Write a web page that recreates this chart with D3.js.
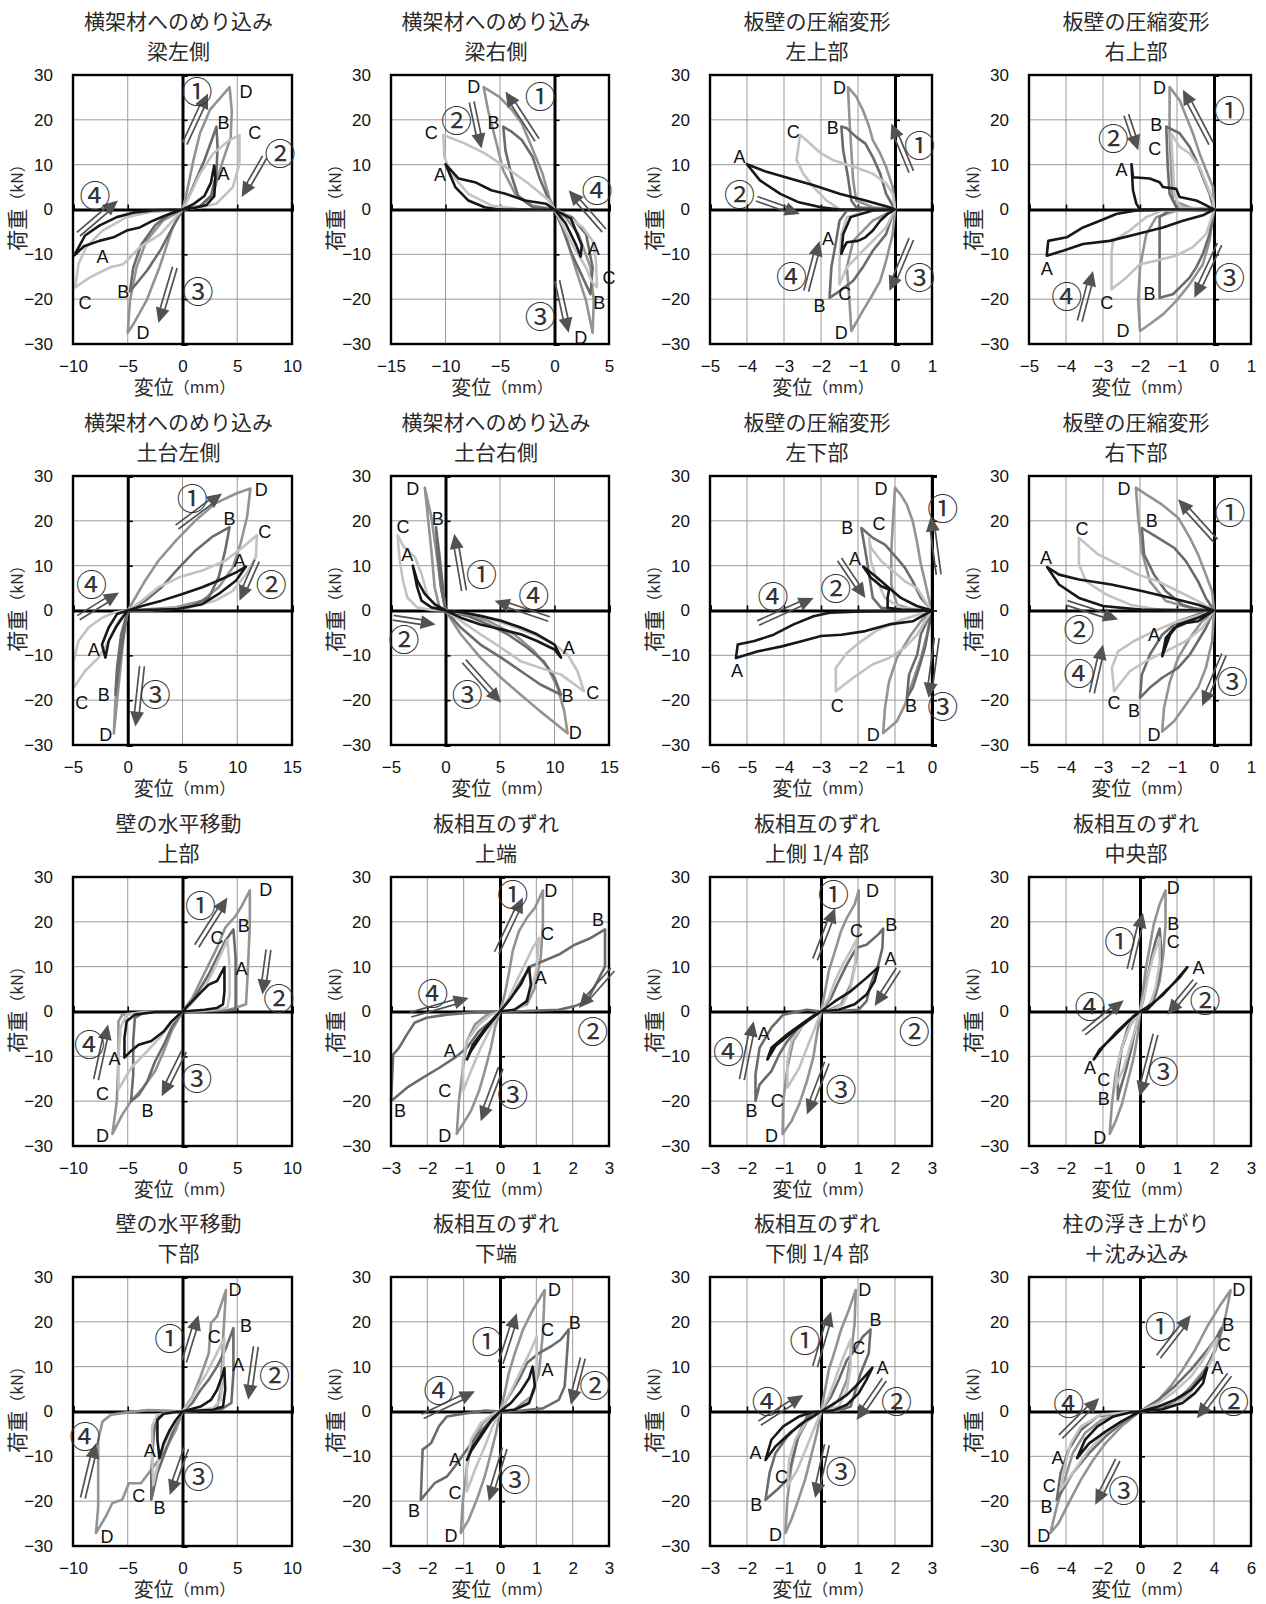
<!DOCTYPE html>
<html>
<head>
<meta charset="utf-8">
<script src="https://cdn.jsdelivr.net/npm/d3@7"></script>
<style>
body { margin: 0; background: #fff; }
svg { display: block; }
</style>
</head>
<body>
<svg id="chart" width="1266" height="1604"></svg>
<script>
// titles, axes
var titles = [
  ["横架材へのめり込み", "梁左側"], ["横架材へのめり込み", "梁右側"], ["板壁の圧縮変形", "左上部"], ["板壁の圧縮変形", "右上部"],
  ["横架材へのめり込み", "土台左側"], ["横架材へのめり込み", "土台右側"], ["板壁の圧縮変形", "左下部"], ["板壁の圧縮変形", "右下部"],
  ["壁の水平移動", "上部"], ["板相互のずれ", "上端"], ["板相互のずれ", "上側 1/4 部"], ["板相互のずれ", "中央部"],
  ["壁の水平移動", "下部"], ["板相互のずれ", "下端"], ["板相互のずれ", "下側 1/4 部"], ["柱の浮き上がり", "＋沈み込み"]
]
var xDomains = [[-10,10],[-15,5],[-5,1],[-5,1],[-5,15],[-5,15],[-6,0],[-5,1],[-10,10],[-3,3],[-3,3],[-3,3],[-10,10],[-3,3],[-3,3],[-6,6]]
var ticks10 = [-10,-5,0,5,10], ticks3 = [-3,-2,-1,0,1,2,3], ticks5 = [-5,-4,-3,-2,-1,0,1]
var xTicks = [ticks10, [-15,-10,-5,0,5], ticks5, ticks5, [-5,0,5,10,15], [-5,0,5,10,15], [-6,-5,-4,-3,-2,-1,0], ticks5,
  ticks10, ticks3, ticks3, ticks3, ticks10, ticks3, ticks3, [-6,-4,-2,0,2,4,6]]
var yTicks = [-30,-20,-10,0,10,20,30]

// loops: displacement (mm), load (kN)
var p1A = [[0,0],[1,1.2],[2,3],[2.6,6],[2.9,9.8],[3,7],[2.9,3],[2.2,1],[1,0.3],[0,0],[-1.5,-1.3],[-2.7,-2.5],[-3.9,-4],[-5.1,-4.7],[-6.3,-6.2],[-7.6,-7],[-9,-8.2],[-9.9,-10.3],[-8.9,-5.8],[-7.6,-3.6],[-6,-1.7],[-4.5,-0.7],[-2.7,-0.2],[0,0]]
var p1B = [[0,0],[0.6,3],[1.3,7],[2,11],[2.6,15],[3.1,18.5],[3.2,14],[3.1,8],[2.6,3],[1.6,0.8],[0,0],[-0.9,-4],[-2,-9],[-3.2,-13.5],[-4.2,-16.5],[-4.8,-18.3],[-4.5,-13],[-3.8,-8],[-2.5,-3.5],[-1.2,-1],[0,0]]
var p1C = [[0,0],[0.6,2.8],[1.6,8],[2.8,12.5],[4.3,15.5],[5.2,16.6],[5.2,10.2],[4.6,5],[3.1,1.3],[1.6,0.5],[0,0],[-2,-5.5],[-3.9,-8.4],[-5.4,-12.2],[-6.6,-12.9],[-8.5,-15.2],[-9.8,-17.4],[-9.5,-12.2],[-8.8,-8.4],[-7.3,-4.7],[-5.1,-1.7],[-3,-0.6],[0,0]]
var p1D = [[0,0],[0.3,2.8],[1,11],[1.6,17],[2.5,22.2],[4.3,27.3],[4.5,22],[4.4,16],[3.7,11],[2.8,3.5],[1.6,0.5],[0,0],[-0.9,-4],[-2.1,-12.9],[-3.3,-20.4],[-4.5,-25.6],[-5,-27.5],[-4.8,-20.4],[-4.2,-12.9],[-3.3,-7],[-1.8,-2.5],[0,0]]

var p2A = [[0,0],[-0.8,1.3],[-2.7,2],[-4.5,3.5],[-5.8,4.3],[-7.3,6.1],[-8.8,6.9],[-10,10.1],[-9.1,5],[-7.9,2],[-6.4,0.5],[-5.1,0],[0,0],[1,-3],[2,-8],[2.4,-10.5],[2.5,-8],[1.5,-2],[0,0]]
var p2B = [[0,0],[-0.5,2],[-1.4,7.2],[-2,11.7],[-3,15.5],[-3.9,17.3],[-4.7,18.5],[-4.5,13.2],[-3.9,7.2],[-3.3,2.8],[-2,0.5],[0,0],[0.7,-4],[1.6,-10],[2.6,-15.2],[3.3,-18.9],[3.5,-13],[2.9,-5.5],[1.6,-1.7],[0,0]]
var p2C = [[0,0],[-0.5,2],[-2.4,5.8],[-4.5,9.5],[-6.4,12.5],[-8.2,14.7],[-10.2,16.6],[-10.1,11.7],[-9.5,8],[-7.9,3.5],[-5.8,0.9],[-3.3,0.1],[0,0],[1,-1],[2.6,-4],[3.5,-7],[3.8,-11.4],[3.9,-17.4],[3.4,-16],[2.9,-13],[1.6,-7.7],[0.7,-3.2],[0,0]]
var p2D = [[0,0],[-0.5,2.8],[-1.1,8],[-2.1,14],[-3,19.2],[-3.9,22.2],[-5.1,25.2],[-6.5,27.3],[-6.1,22.2],[-5.4,15.5],[-4.7,8.7],[-3.6,3.5],[-2,0.9],[0,0],[1,-5.5],[1.9,-12.9],[2.9,-20.4],[3.5,-27.5],[3.6,-20.4],[3.3,-12.9],[2.2,-5.5],[1,-1.7],[0,0]]

var p3A = [[0,0],[-0.15,0.5],[-0.8,2],[-1.5,3.5],[-2.2,5.4],[-2.84,6.9],[-3.47,8.4],[-4,10.1],[-3.65,6.5],[-3.1,3.5],[-2.6,1.6],[-2,0.5],[-1.5,0],[0,0],[-0.2,-1],[-0.4,-2.5],[-0.6,-4.7],[-0.8,-6.2],[-1,-7],[-1.3,-7.3],[-1.4,-8.8],[-1.45,-9.9],[-1.4,-5.5],[-1.2,-1.7],[-0.6,-0.2],[0,0]]
var p3B = [[0,0],[-0.24,3.5],[-0.4,8],[-0.6,11.7],[-0.8,14.7],[-1.05,16.2],[-1.3,18.1],[-1.45,18.5],[-1.4,13.2],[-1.27,7.2],[-1.18,2],[-1.05,0.5],[-0.6,0.2],[0,0],[-0.06,-1],[-0.24,-5.5],[-0.6,-9.2],[-0.87,-12.9],[-1.13,-15.9],[-1.5,-18.2],[-1.77,-19.7],[-1.72,-12.9],[-1.59,-7],[-1.5,-2.5],[-1.3,-0.2],[0,0]]
var p3C = [[0,0],[-0.06,3.5],[-0.24,5.8],[-0.6,8],[-1.1,9.5],[-1.67,11],[-2,12.5],[-2.4,15.5],[-2.57,16.6],[-2.66,11],[-2.48,8],[-2.2,5],[-1.85,2],[-1.5,0.1],[-0.6,0],[0,0],[-0.24,-4],[-0.6,-7],[-0.95,-9.9],[-1.3,-12.9],[-1.5,-16.7],[-1.5,-11.4],[-1.45,-5.5],[-1.3,-1.7],[-0.7,-0.2],[0,0]]
var p3D = [[0,0],[-0.06,5],[-0.24,9.5],[-0.4,12.5],[-0.6,15.5],[-0.7,18.5],[-0.87,22.2],[-1.05,25.2],[-1.27,27.3],[-1.23,20],[-1.18,13.2],[-1.13,6.5],[-1.05,2],[-0.6,0.5],[0,0],[-0.06,-5.5],[-0.24,-11.4],[-0.4,-15.9],[-0.6,-18.9],[-0.87,-22.6],[-1.18,-27.1],[-1.23,-20.4],[-1.3,-12.9],[-1.13,-7],[-0.6,-2.5],[0,0]]

var p4A = [[0,0],[-0.3,1.3],[-0.48,2],[-0.93,2.8],[-1.02,4.6],[-1.38,5],[-1.47,6.1],[-1.74,6.9],[-2.19,7.2],[-2.23,10.1],[-2.19,4.3],[-2.1,1.3],[-2,0],[0,0],[-0.3,-1.3],[-0.84,-2.5],[-1.38,-4],[-2.1,-5.5],[-2.82,-7],[-3.54,-7.7],[-4.08,-9.2],[-4.52,-10.3],[-4.48,-7],[-3.98,-6.2],[-3.54,-4],[-3.08,-2.5],[-2.64,-1],[-2.1,-0.2],[-1.4,0],[0,0]]
var p4B = [[0,0],[-0.12,3.5],[-0.3,7.2],[-0.48,11],[-0.66,14],[-0.93,17],[-1.29,18.5],[-1.25,9.5],[-1.2,3.5],[-1.02,0.5],[0,0],[-0.12,-5.5],[-0.3,-9.9],[-0.48,-12.9],[-0.66,-15.2],[-0.84,-16.7],[-1.11,-18.9],[-1.47,-19.7],[-1.47,-12.9],[-1.47,-5.5],[-1.47,-1.7],[-1.2,-0.2],[0,0]]
var p4C = [[0,0],[-0.03,2],[-0.21,5.8],[-0.39,9.5],[-0.66,12.5],[-0.93,14],[-1.16,17],[-1.11,9.5],[-1.07,3.5],[-0.93,0.5],[0,0],[-0.21,-5.5],[-0.57,-8.4],[-1.02,-10.3],[-1.56,-11.4],[-2,-12.2],[-2.37,-15.2],[-2.77,-17.8],[-2.77,-9.9],[-2.73,-7],[-2.28,-4.7],[-1.83,-1.7],[-1.38,-0.2],[0,0]]
var p4D = [[0,0],[-0.03,5],[-0.21,8.7],[-0.39,12.5],[-0.57,17],[-0.75,20.7],[-0.93,24.4],[-1.2,27.3],[-1.2,17],[-1.16,9.5],[-1.11,2],[-0.6,0.3],[0,0],[-0.12,-7],[-0.3,-12.2],[-0.66,-16.7],[-1.02,-20.4],[-1.38,-23.4],[-1.74,-25.6],[-2,-27.1],[-2.05,-20.4],[-2,-12.9],[-1.83,-5.5],[-1.56,-1.7],[-1,-0.2],[0,0]]

var p5A = [[0,0],[1.3,1],[3.1,2.2],[5,3.7],[6.8,5.2],[8.3,6.7],[9.9,8.5],[10.8,9.8],[9.9,6.7],[8.3,3.7],[6.8,1.4],[4.4,0.3],[0,0],[-0.5,-1.6],[-1.1,-3.8],[-1.74,-6.8],[-2.04,-10.5],[-2.35,-7.6],[-1.74,-3.8],[-0.98,-0.8],[0,0]]
var p5B = [[0,0],[1.6,2.2],[3.1,5.2],[4.7,9.6],[6.2,13.4],[7.7,16.4],[9.3,18.6],[8.9,13.4],[8.3,7.4],[7.4,2.9],[5.6,0.7],[3.1,0.1],[0,0],[-0.36,-5.3],[-0.82,-12.8],[-1.13,-18.8],[-0.98,-12.8],[-0.6,-5.3],[0,0]]
var p5C = [[0,0],[1.3,2.2],[2.8,5.2],[4.7,7.4],[6.8,8.9],[8.9,11.1],[10.5,14.1],[11.8,16.8],[11.7,11.9],[10.8,8.1],[9.6,4.4],[8,2.2],[5.6,0.7],[2.2,0.1],[0,0],[-0.82,-2.3],[-1.74,-6.8],[-2.66,-10.5],[-3.9,-13.5],[-4.95,-17.3],[-4.95,-11.3],[-4.5,-6.8],[-3.57,-3.8],[-2.35,-1.6],[-1.13,-0.4],[0,0]]
var p5D = [[0,0],[0.7,2.9],[1.6,6.7],[2.8,11.1],[4.4,15.6],[6.2,20.1],[8,23.9],[9.9,26.1],[11.2,27.2],[10.9,20.9],[10.3,14.9],[9.6,9.6],[8.3,5.2],[6.8,2.2],[4.4,0.7],[0,0],[-0.36,-5.3],[-0.67,-12.8],[-0.98,-20.3],[-1.27,-27.4],[-1.13,-20.3],[-0.82,-12.8],[-0.5,-5.3],[0,0]]

var p6A = [[0,0],[-1,1.4],[-1.9,3.7],[-2.6,6.7],[-3,10],[-2.6,5.2],[-2.2,2.2],[-1.3,0.7],[0,0],[1.4,-1.6],[3.2,-3.1],[5.1,-4.2],[6.9,-5.3],[8.4,-6.8],[10,-8.7],[10.6,-10.5],[10,-7.6],[8.4,-5.3],[6.9,-3.8],[5.1,-2.3],[3.2,-1.2],[1.4,-0.4],[0,0]]
var p6B = [[0,0],[-0.27,5.9],[-0.57,12.6],[-0.87,18.6],[-0.72,12.6],[-0.42,5.2],[0,0],[1.4,-3.8],[3.2,-7.6],[5.1,-10.5],[6.9,-13.5],[8.7,-16.5],[10.6,-18.8],[10,-15],[9,-11.3],[7.5,-8.3],[5.7,-5.3],[3.9,-3.1],[2,-1.2],[0,0]]
var p6C = [[0,0],[-0.7,0.7],[-1.6,2.9],[-2.2,8.2],[-2.8,11.9],[-3.8,14.1],[-4.4,16.8],[-4.2,11.1],[-3.9,6.7],[-3.5,2.9],[-2.6,0.7],[-1.3,0.1],[0,0],[1.4,-2.3],[3.2,-5.3],[5.1,-8.3],[6.9,-11.3],[8.7,-12.8],[10.6,-14.3],[12.7,-18],[12.1,-13.5],[11.2,-9.8],[10,-7.6],[8.1,-5.3],[5.7,-3.1],[3.2,-1.2],[0,0]]
var p6D = [[0,0],[-0.4,5.2],[-0.87,13.4],[-1.3,20.9],[-1.9,27.4],[-1.65,21.6],[-1.3,13.4],[-1,5.2],[-0.55,0.7],[0,0],[1.4,-5.3],[3.2,-10.5],[5.1,-15],[6.9,-18.8],[8.7,-22.5],[11.2,-27.4],[10.9,-22.5],[10.3,-17.3],[9.4,-12.8],[8.1,-9],[6.3,-5.3],[3.9,-2.3],[1.7,-0.8],[0,0]]

var p7A = [[0,0],[-0.41,1],[-0.84,2.8],[-1.16,5],[-1.48,7.3],[-1.86,9.8],[-1.65,7.3],[-1.37,5.4],[-1.16,4.7],[-1.2,2.8],[-1.2,0.6],[-0.84,0.2],[0,0],[-0.52,-2.4],[-1.16,-3.1],[-1.8,-4.6],[-2.45,-5.4],[-3,-5.7],[-3.5,-6.8],[-4.06,-8],[-4.7,-9.1],[-5.3,-10.6],[-5.25,-7.6],[-4.8,-6.8],[-4.28,-5.4],[-3.74,-3.1],[-3.2,-1.3],[-2.77,-0.5],[-1.9,-0.2],[0,0]]
var p7B = [[0,0],[-0.3,2.8],[-0.52,6.5],[-0.73,9.5],[-0.95,11.7],[-1.27,14.7],[-1.6,16.2],[-1.91,18.4],[-1.8,13.2],[-1.7,8],[-1.6,2.8],[-1.37,0.6],[-0.84,0.2],[0,0],[-0.09,-3.9],[-0.19,-8.3],[-0.35,-12.8],[-0.52,-17.2],[-0.68,-19.5],[-0.62,-14.3],[-0.4,-9.8],[-0.3,-5.3],[0,0]]
var p7C = [[0,0],[-0.19,2.1],[-0.4,5],[-0.73,6.5],[-1.05,8.8],[-1.37,11],[-1.65,14],[-1.7,16.2],[-1.65,11],[-1.48,6.5],[-1.27,2.8],[-0.84,0.6],[0,0],[-0.19,-2.4],[-0.4,-5.4],[-0.73,-8.3],[-1.16,-10.6],[-1.6,-12],[-2.13,-15],[-2.6,-18],[-2.6,-12.8],[-2.3,-9.5],[-2,-7.4],[-1.5,-4.5],[-0.8,-2],[0,0]]
var p7D = [[0,0],[-0.09,2.8],[-0.19,6.5],[-0.3,10.3],[-0.41,15.5],[-0.52,19.9],[-0.68,23.6],[-0.84,25.8],[-1,27.4],[-1.05,20.7],[-1.1,13.2],[-1.1,5.8],[-0.95,1.3],[-0.52,0.2],[0,0],[-0.14,-5.4],[-0.3,-10.6],[-0.52,-15.8],[-0.73,-21],[-0.95,-24.7],[-1.32,-27.3],[-1.27,-21.7],[-1.16,-15.8],[-0.95,-10.6],[-0.62,-6.1],[-0.3,-2.4],[0,0]]

var p8A = [[0,0],[-0.43,1.3],[-1.16,2.8],[-1.92,4.3],[-2.78,5.8],[-3.65,6.9],[-4.19,8],[-4.51,9.7],[-4.19,5.8],[-3.65,2.8],[-3,1],[-2,0.2],[-1,0.1],[0,0],[-0.43,-2.4],[-0.76,-2.8],[-1.08,-3.9],[-1.3,-6.1],[-1.4,-10.2],[-1.19,-5.4],[-0.97,-3.1],[-0.43,-1.6],[0,0]]
var p8B = [[0,0],[-0.22,2.8],[-0.43,6.5],[-0.76,11],[-1.08,14],[-1.51,16.2],[-1.95,18.4],[-1.89,12.5],[-1.62,8],[-1.3,4.3],[-0.86,1.3],[-0.43,0.2],[0,0],[-0.22,-3.9],[-0.43,-6.8],[-0.65,-9.8],[-0.97,-12.8],[-1.4,-15],[-1.73,-17.2],[-2,-19.5],[-1.95,-14.3],[-1.73,-9.8],[-1.4,-5.4],[-0.97,-2.4],[-0.43,-0.9],[0,0]]
var p8C = [[0,0],[-0.43,2.1],[-0.97,4.3],[-1.51,6.5],[-2.05,8],[-2.59,10.3],[-3.13,12.5],[-3.65,16.2],[-3.65,10.3],[-3.46,6.5],[-2.92,3.6],[-2.27,1.3],[-1.51,0.2],[0,0],[-0.32,-3.9],[-0.76,-6.8],[-1.3,-9.1],[-1.84,-11.3],[-2.27,-13.5],[-2.7,-18],[-2.76,-12.8],[-2.59,-9.1],[-2.16,-6.8],[-1.62,-4.6],[-0.97,-2.4],[-0.32,-0.9],[0,0]]
var p8D = [[0,0],[-0.05,4.3],[-0.22,8],[-0.43,12.5],[-0.65,16.2],[-0.97,20.7],[-1.4,23.6],[-1.84,25.9],[-2.11,27.4],[-2.05,20.7],[-1.95,13.2],[-1.73,6.5],[-1.3,2.1],[-0.65,0.6],[0,0],[-0.05,-6.8],[-0.22,-12.8],[-0.43,-17.2],[-0.76,-21],[-1.08,-24.7],[-1.4,-27],[-1.35,-21.7],[-1.19,-15.8],[-0.97,-10.6],[-0.65,-6.1],[-0.32,-2.4],[0,0]]

var p9A = [[0,0],[0.9,2.3],[1.65,4.2],[2.4,6],[3.15,6.8],[3.83,9.9],[3.83,4.5],[3.7,1.6],[3.15,0.8],[2,0.4],[0,0],[-1,-2.2],[-1.7,-4.4],[-2.85,-6.6],[-4,-7.4],[-4.7,-8.8],[-5.3,-10.3],[-5.3,-5.9],[-5.1,-2.2],[-4.35,-0.7],[-2.5,-0.1],[0,0]]
var p9B = [[0,0],[0.9,2.3],[1.65,5.3],[2.4,8.3],[3.15,12],[3.9,15.7],[4.65,18.3],[4.85,12],[4.85,4.5],[4.85,0.4],[3.15,0.1],[0,0],[-1,-3.6],[-1.7,-7.4],[-2.5,-11.1],[-3.2,-15.5],[-3.95,-18.5],[-4.7,-20],[-4.5,-14],[-4.5,-6.6],[-4.35,-1.4],[-3.6,-0.3],[0,0]]
var p9C = [[0,0],[0.9,1.9],[2,5.3],[2.8,9],[3.5,12.7],[4.1,16],[4.3,9.7],[4.3,3.8],[4.1,0.8],[2,0.1],[0,0],[-1,-2.5],[-2.1,-5.9],[-3.2,-8.8],[-4.7,-12.6],[-5.85,-17.4],[-5.85,-10.3],[-5.65,-3.6],[-5.1,-0.7],[-3.6,-0.2],[0,0]]
var p9D = [[0,0],[0.9,3],[1.65,6.8],[2.4,10.5],[3.15,14.2],[3.9,18.7],[4.85,21.3],[5.4,23.5],[6.15,27],[6.15,19.4],[5.95,8.3],[5.8,1.6],[4.3,0.4],[1.3,0.1],[0,0],[-1,-4.4],[-1.7,-8.8],[-2.5,-13.3],[-3.6,-17],[-4.7,-20],[-5.5,-23],[-6.4,-27.3],[-6,-20],[-5.85,-10.3],[-5.85,-2.2],[-5.5,-0.7],[-3.6,-0.2],[0,0]]

var p10A = [[0,0],[0.3,3],[0.57,6],[0.8,9.9],[0.85,6],[0.74,2.3],[0.4,0.4],[0,0],[-0.25,-2.5],[-0.53,-5.5],[-0.8,-8.8],[-0.91,-10.7],[-0.75,-7.4],[-0.47,-4.4],[-0.2,-1.8],[0,0]]
var p10B = [[0,0],[0.3,3],[0.63,7.5],[0.85,10.1],[1.18,11.2],[1.62,12.7],[2.06,14.9],[2.5,16.4],[2.89,18.3],[2.89,12],[2.89,10],[2.6,5.5],[2.39,2.3],[2.06,1.2],[1.62,0.4],[0.7,0.1],[0,0],[-0.25,-2.2],[-0.58,-4.4],[-0.91,-8.1],[-1.24,-10.3],[-1.68,-12.6],[-2.13,-14.8],[-2.56,-17],[-3,-20],[-2.94,-9.6],[-2.78,-8.1],[-2.56,-5.1],[-2.35,-2.5],[-2.02,-1.4],[-1.46,-0.7],[-0.91,-0.3],[0,0]]
var p10C = [[0,0],[0.24,3],[0.46,6.8],[0.68,10.5],[0.9,14.2],[1.07,16.4],[1.01,9.7],[0.85,4.5],[0.63,1.2],[0.3,0.2],[0,0],[-0.25,-3.6],[-0.53,-8.1],[-0.8,-13.3],[-1.02,-17.8],[-1.02,-11],[-0.91,-6.6],[-0.58,-2.9],[-0.25,-0.7],[0,0]]
var p10D = [[0,0],[0.13,3.8],[0.24,8.3],[0.35,13.5],[0.52,17.9],[0.74,20.9],[0.96,23.1],[1.18,27],[1.18,19.4],[1.12,12],[0.96,5.3],[0.74,1.6],[0.3,0.2],[0,0],[-0.14,-3.6],[-0.25,-8.1],[-0.42,-13.3],[-0.58,-17.8],[-0.8,-22.2],[-1.19,-27.3],[-1.13,-20],[-1.02,-12.6],[-0.91,-6.6],[-0.69,-2.9],[-0.36,-0.7],[0,0]]

var p11A = [[0,0],[0.38,2.3],[0.8,4.5],[1.23,7.5],[1.55,9.9],[1.45,6.8],[1.23,3.8],[0.91,1.6],[0.48,0.4],[0,0],[-0.38,-2.2],[-0.8,-4.8],[-1.23,-7.7],[-1.45,-10.7],[-1.34,-8.1],[-0.91,-5.1],[-0.48,-2.5],[-0.16,-0.7],[0,0]]
var p11B = [[0,0],[0.27,3],[0.48,6.8],[0.7,10.5],[0.96,14.2],[1.23,14.9],[1.55,17.2],[1.68,18.5],[1.66,14.2],[1.55,10.5],[1.34,6],[1.23,2.3],[1.02,0.4],[0.4,0.1],[0,0],[-0.27,-1.4],[-0.59,-3.6],[-0.91,-6.6],[-1.13,-9.6],[-1.34,-13.3],[-1.66,-16.3],[-1.77,-19.9],[-1.77,-14],[-1.66,-8.1],[-1.34,-3.6],[-1.02,-0.7],[-0.38,0.4],[0,0]]
var p11C = [[0,0],[0.21,3],[0.38,6.8],[0.59,10.5],[0.8,13.5],[0.96,16],[0.91,9.7],[0.8,5.3],[0.59,1.6],[0.27,0.2],[0,0],[-0.16,-3.6],[-0.38,-8.1],[-0.59,-12.6],[-0.91,-17],[-0.91,-11.1],[-0.8,-6.6],[-0.48,-2.9],[-0.16,-0.7],[0,0]]
var p11D = [[0,0],[0.11,4.5],[0.21,9],[0.38,13.5],[0.54,17.9],[0.7,20.9],[0.91,23.9],[1.02,27],[1.02,19.4],[0.96,12],[0.8,6],[0.54,1.6],[0.16,0.2],[0,0],[-0.11,-5.1],[-0.21,-10.3],[-0.38,-15.5],[-0.59,-20.7],[-0.8,-24.5],[-1.04,-27.3],[-1.02,-20],[-0.91,-12.6],[-0.75,-6.6],[-0.48,-2.9],[-0.16,-0.7],[0,0]]

var p12A = [[0,0],[0.31,1.6],[0.63,3.8],[0.96,6.8],[1.28,9.9],[1.06,7.5],[0.74,4.9],[0.42,2.3],[0.2,0.5],[0,0],[-0.33,-2.2],[-0.66,-4.8],[-0.98,-7.7],[-1.25,-10.7],[-1.09,-8.5],[-0.76,-5.9],[-0.44,-3.3],[-0.17,-1],[0,0]]
var p12B = [[0,0],[0.1,3],[0.2,7.5],[0.31,12],[0.42,15.7],[0.53,18.5],[0.58,13.5],[0.53,8.3],[0.42,3.8],[0.2,0.8],[0,0],[-0.12,-3.6],[-0.23,-8.1],[-0.39,-13.3],[-0.55,-17.8],[-0.6,-19.6],[-0.6,-14],[-0.49,-8.1],[-0.33,-3.6],[-0.12,-0.9],[0,0]]
var p12C = [[0,0],[0.12,3.8],[0.23,8.3],[0.37,12.7],[0.53,16.4],[0.53,10.6],[0.42,5.3],[0.26,1.2],[0,0],[-0.12,-3.6],[-0.28,-8.1],[-0.44,-12.6],[-0.66,-16.7],[-0.6,-11.8],[-0.44,-6.6],[-0.23,-2.5],[0,0]]
var p12D = [[0,0],[0.08,4.5],[0.16,9.7],[0.26,14.2],[0.37,19.4],[0.53,23.9],[0.69,27],[0.69,19.4],[0.63,12.7],[0.53,6.8],[0.37,2.3],[0.15,0.4],[0,0],[-0.06,-5.1],[-0.17,-10.3],[-0.33,-15.5],[-0.49,-20.7],[-0.66,-24.5],[-0.82,-27.3],[-0.76,-20.7],[-0.66,-14],[-0.49,-8.1],[-0.28,-3.3],[0,0]]

var p13A = [[0,0],[1.65,1.1],[2.6,2.6],[3.15,4.8],[3.7,8.5],[3.83,9.7],[3.9,4.8],[3.7,1.1],[2.8,0.4],[0,0],[-0.6,-1.9],[-1.16,-4.1],[-1.73,-7.1],[-2.1,-10.4],[-2.29,-6.3],[-2.29,-1.9],[-1.73,-0.5],[-0.6,-0.1],[0,0]]
var p13B = [[0,0],[0.9,1.9],[1.65,4.8],[2.4,7.1],[3.15,10],[3.9,13.7],[4.65,18.6],[4.65,8.5],[4.46,1.9],[3.5,0.4],[0,0],[-0.6,-2.6],[-1.16,-6.3],[-1.73,-10],[-2.29,-13.7],[-2.85,-19.7],[-2.85,-13.7],[-2.66,-6.3],[-2.47,-1.9],[-1.73,-0.4],[0,0]]
var p13C = [[0,0],[0.7,2.2],[1.46,5.6],[2.2,8.5],[2.96,12.2],[3.83,16.3],[3.7,8.5],[3.5,2.6],[2.8,0.7],[0,0],[-0.6,-2.2],[-1.35,-5.6],[-2.1,-10],[-2.66,-16.3],[-2.78,-10],[-2.78,-3.3],[-2.29,-0.7],[0,0]]
var p13D = [[0,0],[0.9,3.3],[1.65,7.8],[2.4,13],[2.6,19.7],[3.15,21.2],[3.98,27.1],[3.7,16],[3.5,4.8],[3.15,0.7],[1.5,0.2],[0,0],[-0.6,-4.1],[-1.73,-9.3],[-2.85,-13],[-3.8,-16],[-4.9,-16],[-5.5,-19.7],[-6.4,-20.4],[-7,-23.4],[-7.9,-27.1],[-7.7,-21.2],[-7.7,-6.3],[-7.3,-2.2],[-6.5,-0.7],[-5,-0.2],[-3.2,0.3],[-1.5,0.2],[0,0]]

var p14A = [[0,0],[0.3,1.9],[0.57,4.5],[0.8,7.4],[0.9,10],[0.96,5.6],[0.8,1.9],[0.4,0.4],[0,0],[-0.25,-2.2],[-0.53,-5.6],[-0.8,-8.9],[-0.91,-10.8],[-0.75,-7.8],[-0.47,-4.5],[-0.2,-1.5],[0,0]]
var p14B = [[0,0],[0.24,3.3],[0.52,7.1],[0.74,10.8],[1.07,13],[1.4,14.5],[1.67,16],[1.89,18.3],[1.84,12.2],[1.78,5.6],[1.62,2.6],[1.18,0.7],[0.5,0.1],[0,0],[-0.25,-1.9],[-0.58,-4.8],[-0.91,-8.5],[-1.24,-12.2],[-1.46,-14.5],[-1.8,-16],[-2.18,-19.7],[-2.13,-8.5],[-1.9,-7.1],[-1.68,-3.3],[-1.46,-1.1],[-0.91,-0.4],[-0.4,0.2],[0,0]]
var p14C = [[0,0],[0.19,2.6],[0.41,6.3],[0.63,10],[0.85,13.7],[1.01,16.7],[1.01,10],[0.96,4.8],[0.74,1.5],[0.3,0.2],[0,0],[-0.2,-3.3],[-0.42,-7.8],[-0.69,-13],[-0.91,-17.8],[-0.91,-11.5],[-0.8,-6.3],[-0.53,-2.6],[-0.2,-0.6],[0,0]]
var p14D = [[0,0],[0.13,4.1],[0.24,8.5],[0.41,13],[0.63,18.2],[0.9,22.6],[1.23,27.1],[1.18,17.4],[1.07,8.5],[0.85,3.3],[0.4,0.5],[0,0],[-0.09,-4.1],[-0.25,-9.3],[-0.42,-14.5],[-0.64,-19.7],[-0.86,-24.1],[-1.08,-27.1],[-1.02,-19.7],[-0.91,-12.2],[-0.75,-6.3],[-0.47,-2.6],[-0.2,-0.7],[0,0]]

var p15A = [[0,0],[0.38,1.9],[0.7,3.7],[1.02,6.3],[1.39,9.8],[1.23,7.1],[1.02,4.1],[0.7,1.5],[0.32,0.2],[0,0],[-0.38,-1.9],[-0.8,-4.5],[-1.23,-7.8],[-1.5,-10.8],[-1.34,-6.3],[-1.02,-3.3],[-0.59,-1.1],[-0.27,-0.2],[0,0]]
var p15B = [[0,0],[0.27,3.3],[0.48,7.1],[0.7,11.5],[0.91,13.7],[1.13,16.7],[1.34,18.3],[1.29,13],[1.07,8.5],[0.91,4.1],[0.8,1.1],[0.48,0.2],[0,0],[-0.27,-1.1],[-0.59,-3],[-0.91,-5.6],[-1.23,-9.3],[-1.39,-13.7],[-1.5,-19.7],[-1.18,-17.4],[-0.91,-15.2],[-0.75,-10],[-0.59,-4.8],[-0.38,-1.1],[0,0]]
var p15C = [[0,0],[0.21,3.3],[0.38,7.1],[0.54,10.8],[0.8,16],[0.8,10],[0.7,4.8],[0.48,1.1],[0,0],[-0.16,-3.3],[-0.38,-7.8],[-0.64,-13],[-0.91,-16.7],[-0.86,-10.8],[-0.7,-6.3],[-0.43,-2.6],[-0.16,-0.6],[0,0]]
var p15D = [[0,0],[0.11,4.8],[0.21,9.3],[0.38,13.7],[0.54,18.2],[0.75,22.6],[0.94,27.1],[0.91,19.7],[0.8,12.2],[0.7,7.1],[0.48,2.6],[0.16,0.3],[0,0],[-0.11,-4.8],[-0.27,-10],[-0.43,-15.2],[-0.64,-20.4],[-0.8,-24.1],[-0.96,-27.1],[-0.91,-19.7],[-0.8,-12.2],[-0.64,-6.3],[-0.38,-2.2],[0,0]]

var p16A = [[0,0],[1,1.1],[1.87,2.6],[2.75,4.8],[3.41,7.8],[3.63,9.8],[3.41,6.3],[2.97,4.1],[2.3,1.9],[1.2,0.5],[0,0],[-1,-2.2],[-1.87,-4.5],[-2.75,-7.1],[-3.4,-10.4],[-2.97,-6.3],[-2.3,-3.3],[-1.43,-1.1],[-0.55,-0.2],[0,0]]
var p16B = [[0,0],[1,2.6],[1.87,5.6],[2.75,9.3],[3.63,13.7],[4.07,16],[4.4,18.6],[4.07,13.7],[3.41,8.5],[2.75,4.8],[1.87,1.9],[1,0.4],[0,0],[-1,-2.6],[-1.87,-5.6],[-2.75,-9.3],[-3.63,-13.7],[-4.07,-16.7],[-4.5,-19.7],[-4.29,-13.7],[-3.85,-8.5],[-3.19,-4.1],[-2.3,-1.1],[-1,-0.3],[0,0]]
var p16C = [[0,0],[1,1.9],[1.87,4.5],[2.75,7.8],[3.41,11.5],[3.85,14.5],[4.18,16.3],[3.96,12.2],[3.41,7.8],[2.53,3.3],[1.43,0.7],[0,0],[-1,-2.2],[-1.87,-4.8],[-2.75,-8.5],[-3.52,-13],[-4.29,-17.4],[-4.07,-12.2],[-3.74,-7.1],[-3.19,-3.3],[-2.09,-0.7],[0,0]]
var p16D = [[0,0],[1,2.6],[1.65,5.6],[2.3,9.3],[2.97,13.7],[3.63,18.9],[4.29,23.4],[4.9,27.1],[4.62,21.2],[4.29,16],[3.63,10],[2.75,5.6],[1.87,1.9],[1,0.4],[0,0],[-1,-3.3],[-1.87,-7.1],[-2.53,-10.8],[-3.19,-15.2],[-3.85,-20.4],[-4.4,-24.9],[-4.84,-27.1],[-4.5,-21.2],[-4.07,-15.2],[-3.63,-9.3],[-2.97,-4.8],[-2.09,-1.9],[-1,-0.5],[0,0]]

// letter labels [letter, x, y]
var labels = [
  [["A",3.75,8],["B",3.75,19.2],["C",6.6,17],["D",5.8,26.3],["A",-7.3,-10.7],["B",-5.4,-18.5],["C",-8.9,-20.8],["D",-3.6,-27.5]],
  [["A",-10.5,7.6],["B",-5.6,19.2],["C",-11.3,17],["D",-7.4,27.4],["A",3.6,-8.8],["B",4.1,-20.8],["C",5,-15.2],["D",2.4,-28.6]],
  [["A",-4.2,11.7],["B",-1.68,18.1],["C",-2.75,17.3],["D",-1.5,27],["A",-1.81,-6.6],["B",-2.04,-21.5],["C",-1.36,-18.9],["D",-1.45,-27.5]],
  [["A",-2.5,8.7],["B",-1.56,18.8],["C",-1.6,13.6],["D",-1.47,27],["A",-4.52,-13.3],["B",-1.74,-18.9],["C",-2.9,-20.8],["D",-2.46,-27.1]],
  [["A",10.2,11.1],["B",9.3,20.5],["C",12.5,17.5],["D",12.2,26.9],["A",-3.1,-8.7],["B",-2.2,-18.8],["C",-4.2,-20.6],["D",-2,-27.7]],
  [["A",-3.5,12.3],["B",-0.7,20.5],["C",-3.9,18.6],["D",-3,27.2],["A",11.3,-8.3],["B",11.2,-19.1],["C",13.5,-18.4],["D",11.9,-27.4]],
  [["A",-2.08,11.4],["B",-2.29,18.4],["C",-1.43,19.2],["D",-1.38,27],["A",-5.27,-13.5],["B",-0.57,-21.3],["C",-2.56,-21.3],["D",-1.59,-27.7]],
  [["A",-4.54,11.7],["B",-1.68,19.9],["C",-3.57,18.1],["D",-2.43,27],["A",-1.62,-5.4],["B",-2.16,-22.5],["C",-2.7,-20.6],["D",-1.62,-27.7]],
  [["A",5.4,9.4],["B",5.6,19],["C",3.15,16.4],["D",7.6,27],["A",-6.2,-10.7],["B",-3.2,-22.2],["C",-7.3,-18.5],["D",-7.3,-27.8]],
  [["A",1.12,7.5],["B",2.7,20.3],["C",1.31,17.2],["D",1.4,26.8],["A",-1.38,-8.8],["B",-2.75,-22.1],["C",-1.52,-17.8],["D",-1.52,-27.8]],
  [["A",1.88,11.6],["B",1.9,19.4],["C",0.96,17.9],["D",1.39,26.8],["A",-1.55,-5.1],["B",-1.88,-22.2],["C",-1.18,-20],["D",-1.34,-27.8]],
  [["A",1.58,9.7],["B",0.9,19.6],["C",0.9,15.4],["D",0.9,27.6],["A",-1.35,-12.6],["B",-0.98,-19.6],["C",-0.98,-15.2],["D",-1.09,-28.2]],
  [["A",5.1,10.4],["B",5.8,19.1],["C",2.9,16.7],["D",4.8,27.2],["A",-3,-8.9],["B",-2.1,-21.5],["C",-4,-18.9],["D",-6.9,-28.1]],
  [["A",1.31,9.3],["B",2.06,19.8],["C",1.31,18.2],["D",1.5,27.2],["A",-1.24,-10.8],["B",-2.37,-22.3],["C",-1.24,-18.2],["D",-1.35,-27.7]],
  [["A",1.66,9.7],["B",1.47,20.4],["C",1.02,14.1],["D",1.18,27.1],["A",-1.77,-9.3],["B",-1.75,-20.8],["C",-1.07,-14.5],["D",-1.23,-27.5]],
  [["A",4.18,9.7],["B",4.77,19.3],["C",4.55,14.8],["D",5.34,27.1],["A",-4.46,-10.4],["B",-5.05,-21.2],["C",-4.9,-16.7],["D",-5.2,-27.7]]
]

// arrows [number, tailX, tailY, headX, headY, circleX, circleY]
var arrows = [
  [[1,0.2,14.7,2.33,25.9,1.32,26.7],[2,7.5,11.7,5.4,2.8,8.9,12.9],[3,-0.7,-12.9,-2.2,-25.3,1.42,-17.8],[4,-9.5,-5.5,-5.9,2,-8,3.5]],
  [[1,-1.6,15.5,-4.5,26.3,-1.3,25.6],[2,-7.6,24,-6.7,13.6,-9,20.3],[3,0.25,-15.9,1.3,-27.5,-1.3,-23.4],[4,4.55,-4.7,1.3,4.3,3.9,4.6]],
  [[1,0.44,8.4,-0.1,19.2,0.66,14.7],[2,-3.74,2.4,-2.57,-1,-4.2,3.9],[3,0.44,-6.6,-0.15,-18.2,0.66,-14.8],[4,-2.4,-18.2,-2.04,-7,-2.8,-14.4]],
  [[1,-0.08,14.7,-0.84,26.7,0.42,22.6],[2,-2.37,21.1,-2.05,13.2,-2.72,16.2],[3,0.15,-7.7,-0.53,-19.7,0.42,-14.8],[4,-3.63,-24.9,-3.27,-13.7,-3.98,-18.9]],
  [[1,4.5,18.6,8.6,26.1,5.9,25.4],[2,11.8,11.1,10.2,2.2,13.1,6.3],[3,1.3,-12.4,0.7,-25.9,2.5,-18.4],[4,-4.5,-1.6,-0.8,4,-3.3,6.3]],
  [[1,1.7,4.4,0.8,17.1,3.3,8.5],[2,-4.8,-1.6,-0.9,-3.1,-3.8,-6.1],[3,1.7,-11.3,5.1,-20.6,2,-18.4],[4,9.5,-1.9,4.5,2.2,8.1,3.7]],
  [[1,0.18,8,-0.03,21,0.29,23.3],[2,-2.5,11.4,-1.8,2.8,-2.6,5.4],[3,0.13,-6.1,-0.09,-19.5,0.29,-21],[4,-4.7,-2.8,-3.2,2.8,-4.3,3.6]],
  [[1,0.05,15.5,-0.97,24.8,0.43,22.2],[2,-3.98,1.7,-2.59,-2,-3.65,-3.9],[3,0.27,-9.8,-0.32,-21.3,0.49,-15.4],[4,-3.3,-18.4,-3,-7.6,-3.65,-13.5]],
  [[1,1.3,14.6,4.1,25.4,1.65,24.2],[2,7.85,13.8,7.3,3.8,8.8,3.4],[3,0.15,-8.8,-1.9,-18.9,1.3,-14.4],[4,-7.9,-15.2,-6.8,-2.9,-8.5,-7]],
  [[1,-0.09,13.1,0.63,25.4,0.35,26.5],[2,3.1,9.4,2.17,0.8,2.55,-4],[3,0.02,-12.6,-0.53,-24.5,0.35,-18.1],[4,-2.46,-0.7,-0.86,3,-1.85,4.5]],
  [[1,-0.16,11.6,0.38,23.1,0.34,26.5],[2,2.09,9.4,1.45,1.2,2.52,-4],[3,0.16,-11.4,-0.38,-23,0.54,-17],[4,-2.14,-15.2,-1.82,-2.2,-2.5,-8.5]],
  [[1,-0.28,9.4,0.08,22,-0.55,16.1],[2,1.49,6.8,0.74,-0.7,1.76,3],[3,0.42,-5.1,-0.01,-18.9,0.63,-12.9],[4,-1.52,-4.8,-0.44,2.5,-1.35,1.6]],
  [[1,0.15,11.1,1.46,21.5,-1.16,16.7],[2,6.7,14.5,6,2.6,8.4,8.5],[3,0.34,-8.2,-1.16,-18.6,1.46,-14.1],[4,-9.1,-19.3,-7.9,-7.1,-8.9,-5.2]],
  [[1,0.02,10.8,0.46,21.9,-0.36,16],[2,2.28,11.9,1.95,1.5,2.61,6.3],[3,0.13,-8.2,-0.31,-20,0.41,-14.8],[4,-2.13,-1.1,-0.69,4.5,-1.68,5.2]],
  [[1,-0.16,10,0.27,22.3,-0.43,16.3],[2,1.71,7.1,0.96,-1.9,2.04,2.6],[3,0.16,-7.4,-0.16,-19.3,0.54,-13],[4,-1.66,-2.6,-0.48,3.7,-1.45,2.6]],
  [[1,1,12.2,2.75,21.5,1.1,19.3],[2,4.84,8.2,3.08,-1.5,5.05,2.6],[3,-1.2,-10.8,-2.42,-20.8,-0.88,-17.1],[4,-4.29,-5.6,-2.2,3,-3.85,2.2]]
]

var loops = [
  [p1A,p1B,p1C,p1D],[p2A,p2B,p2C,p2D],[p3A,p3B,p3C,p3D],[p4A,p4B,p4C,p4D],
  [p5A,p5B,p5C,p5D],[p6A,p6B,p6C,p6D],[p7A,p7B,p7C,p7D],[p8A,p8B,p8C,p8D],
  [p9A,p9B,p9C,p9D],[p10A,p10B,p10C,p10D],[p11A,p11B,p11C,p11D],[p12A,p12B,p12C,p12D],
  [p13A,p13B,p13C,p13D],[p14A,p14B,p14C,p14D],[p15A,p15B,p15C,p15D],[p16A,p16B,p16C,p16D]
]

// layout
var colLeft = [73, 391, 710, 1029], colW = [219, 218, 222, 222]
var rowTop = [75, 476, 877, 1277], plotH = 269
var seriesColor = ["#171717", "#6b6b6b", "#c2c2c2", "#939393"] // A B C D
var drawOrder = [3, 1, 2, 0]
var circled = ["", "①", "②", "③", "④"]
var jpFont = "'Noto Sans CJK JP', sans-serif"
var numFont = "'Liberation Sans', Arial, sans-serif"

var svg = d3.select("#chart")

function drawArrow(g, x1, y1, x2, y2) {
  var dx = x2 - x1, dy = y2 - y1, len = Math.hypot(dx, dy)
  var ux = dx / len, uy = dy / len, nx = -uy, ny = ux
  var headL = 15, headW = 7, off = 2.4
  var bx = x2 - ux * headL, by = y2 - uy * headL
  ;[-1, 1].forEach(function(s) {
    g.append("line")
      .attr("x1", x1 + nx * off * s).attr("y1", y1 + ny * off * s)
      .attr("x2", bx + ux * 3 + nx * off * s).attr("y2", by + uy * 3 + ny * off * s)
      .attr("stroke", "#525252").attr("stroke-width", 1.7)
  })
  g.append("path")
    .attr("d", "M" + x2 + "," + y2 + "L" + (bx + nx * headW) + "," + (by + ny * headW) + "L" + (bx - nx * headW) + "," + (by - ny * headW) + "Z")
    .attr("fill", "#525252")
}

loops.forEach(function(series, i) {
  var col = i % 4, row = Math.floor(i / 4)
  var L = colLeft[col], T = rowTop[row], W = colW[col]
  var x = d3.scaleLinear().domain(xDomains[i]).range([L, L + W])
  var y = d3.scaleLinear().domain([-30, 30]).range([T + plotH, T])
  var g = svg.append("g")

  // grid
  g.append("g").selectAll("line").data(xTicks[i]).join("line")
    .attr("x1", function(d) { return x(d) }).attr("x2", function(d) { return x(d) })
    .attr("y1", T).attr("y2", T + plotH)
    .attr("stroke", "#9a9a9a").attr("stroke-width", 1)
  g.append("g").selectAll("line").data(yTicks).join("line")
    .attr("y1", function(d) { return y(d) }).attr("y2", function(d) { return y(d) })
    .attr("x1", L).attr("x2", L + W)
    .attr("stroke", "#9a9a9a").attr("stroke-width", 1)

  // zero axes with small ticks
  var ax0 = g.append("g").attr("transform", "translate(0," + y(0) + ")")
    .call(d3.axisTop(x).tickValues(xTicks[i]).tickSize(5).tickFormat(""))
  var ay0 = g.append("g").attr("transform", "translate(" + x(0) + ",0)")
    .call(d3.axisRight(y).tickValues(yTicks).tickSize(5).tickFormat(""))
  ;[ax0, ay0].forEach(function(a) {
    a.select(".domain").attr("stroke", "#000").attr("stroke-width", 3)
    a.selectAll(".tick line").attr("stroke", "#000").attr("stroke-width", 1.6)
  })

  // loops
  var line = d3.line().x(function(d) { return x(d[0]) }).y(function(d) { return y(d[1]) })
  drawOrder.forEach(function(k) {
    g.append("path").datum(series[k])
      .attr("d", line)
      .attr("fill", "none")
      .attr("stroke", seriesColor[k])
      .attr("stroke-width", 2.6)
      .attr("stroke-linejoin", "round")
  })

  // frame
  g.append("rect").attr("x", L).attr("y", T).attr("width", W).attr("height", plotH)
    .attr("fill", "none").attr("stroke", "#000").attr("stroke-width", 2.4)

  // edge tick labels
  var xa = g.append("g").attr("transform", "translate(0," + (T + plotH) + ")")
    .call(d3.axisBottom(x).tickValues(xTicks[i]).tickSize(0).tickPadding(16).tickFormat(d3.format("d")))
  var ya = g.append("g").attr("transform", "translate(" + L + ",0)")
    .call(d3.axisLeft(y).tickValues(yTicks).tickSize(0).tickPadding(20).tickFormat(d3.format("d")))
  ;[xa, ya].forEach(function(a) {
    a.select(".domain").remove()
    a.selectAll("text").attr("font-family", numFont).attr("font-size", 17).attr("fill", "#111")
  })

  // titles
  titles[i].forEach(function(t, j) {
    g.append("text").attr("x", L + W / 2 - 4).attr("y", T - 55 + j * 30)
      .attr("text-anchor", "middle").attr("dominant-baseline", "central")
      .attr("font-family", jpFont).attr("font-size", 21).attr("fill", "#2a2a2a")
      .text(t)
  })

  // axis titles
  var xt = g.append("text").attr("x", L + W / 2 + 2).attr("y", T + plotH + 42)
    .attr("text-anchor", "middle").attr("dominant-baseline", "central")
    .attr("font-family", jpFont).attr("fill", "#2a2a2a")
  xt.append("tspan").attr("font-size", 20).text("変位")
  xt.append("tspan").attr("font-size", 16).text("（mm）")
  var yt = g.append("text")
    .attr("transform", "translate(" + (L - 57) + "," + (T + plotH / 2 - 6) + ") rotate(-90)")
    .attr("text-anchor", "middle").attr("dominant-baseline", "central")
    .attr("font-family", jpFont).attr("fill", "#2a2a2a")
  yt.append("tspan").attr("font-size", 21).text("荷重")
  yt.append("tspan").attr("font-size", 16).text("（kN）")

  // arrows with circled numbers
  arrows[i].forEach(function(a) {
    drawArrow(g, x(a[1]), y(a[2]), x(a[3]), y(a[4]))
    g.append("text").attr("x", x(a[5])).attr("y", y(a[6]))
      .attr("text-anchor", "middle").attr("dominant-baseline", "central")
      .attr("font-family", jpFont).attr("font-size", 31).attr("fill", "#333")
      .text(circled[a[0]])
  })

  // A-D labels
  g.append("g").selectAll("text").data(labels[i]).join("text")
    .attr("x", function(d) { return x(d[1]) }).attr("y", function(d) { return y(d[2]) })
    .attr("text-anchor", "middle").attr("dominant-baseline", "central")
    .attr("font-family", numFont).attr("font-size", 18).attr("fill", "#111")
    .text(function(d) { return d[0] })
})
</script>
</body>
</html>
